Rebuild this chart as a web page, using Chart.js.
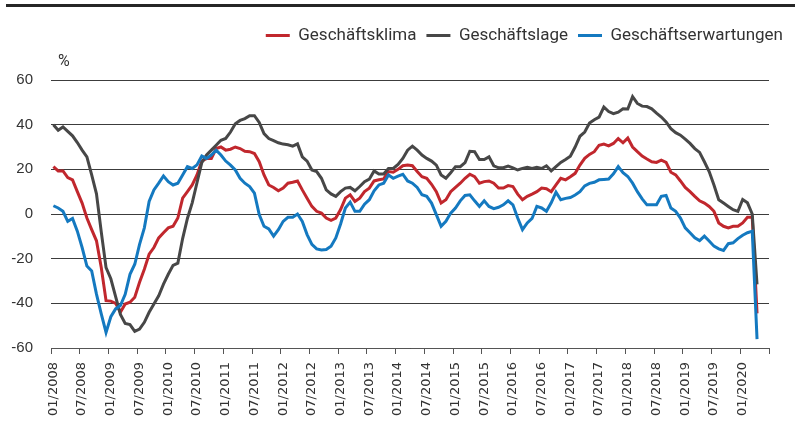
<!DOCTYPE html>
<html>
<head>
<meta charset="utf-8">
<script src="https://cdn.jsdelivr.net/npm/chart.js@4"></script>
<style>
  html, body { margin: 0; padding: 0; background: #fff; }
  #wrap { position: relative; width: 795px; height: 425px; }
</style>
</head>
<body>
<div id="wrap"><canvas id="ifo"></canvas></div>
<script>
'use strict'

// Monate 01/2008 .. 06/2020 (Achse reicht etwas über die Daten hinaus)
const monate = []
for (let j = 2008; j <= 2020; j++) {
  for (let m = 1; m <= 12; m++) {
    if (j === 2020 && m > 6) break
    monate.push(String(m).padStart(2, '0') + '/' + j)
  }
}

// Salden in %, 01/2008 bis 04/2020
const klima = [
  21.2, 19.3, 19.3, 16.3, 15.3, 10, 4.9, -1.8, -7, -12, -24, -38.8,
  -39, -40, -44, -40.3, -39.5, -37.3, -30.6, -24.7, -18, -15, -10.7, -8.4,
  -6.2, -5.5, -1.8, 7.1, 10, 13, 17.5, 23.7, 24.9, 24.9, 29.3, 30,
  28.6, 29, 30, 29.3, 28.1, 27.9, 27.1, 23.4, 17.5, 13, 11.9, 10.4,
  11.6, 13.8, 14.2, 14.8, 10.8, 7.1, 3.4, 1.2, 0.4, -1.8, -2.8, -1.8,
  2, 7.1, 8.6, 5.6, 7.1, 10, 11.6, 14.8, 15.3, 15.7, 19, 18.7,
  20, 21.6, 21.9, 21.6, 19, 16.7, 16, 13.3, 10, 4.9, 6.4, 10,
  11.9, 13.8, 16, 17.8, 16.7, 13.8, 14.5, 14.8, 13.8, 11.6, 11.6, 12.7,
  12.3, 8.9, 6.4, 7.9, 8.9, 10, 11.6, 11.3, 10, 13, 16, 15.3,
  16.7, 18.2, 21.9, 24.9, 26.7, 27.9, 30.8, 31.3, 30.5, 31.6, 33.8, 31.9,
  34, 30, 27.9, 25.9, 24.6, 23.4, 23.1, 24.1, 23.1, 18.7, 17.5, 14.8,
  11.9, 10, 7.9, 5.9, 4.9, 3.4, 1.2, -4, -5.5, -6.2, -5.5, -5.5,
  -4, -1.5, -1.5, -44.5
]

const lage = [
  40, 37.5, 39, 37, 35, 32, 28.6, 25.6, 17.5, 9, -8, -24,
  -29, -37, -45, -49, -49.5, -52.5, -51.5, -48.5, -44, -40.3, -36.6, -31.4,
  -27, -23, -22, -11, -2, 5, 14, 23, 26.4, 28.6, 30.8, 33,
  33.8, 36.7, 40.4, 41.9, 42.7, 44, 44, 41, 36, 33.8, 32.9, 31.9,
  31.3, 31, 30.4, 31.4, 25.6, 23.7, 19.7, 19, 16, 10.8, 9, 7.9,
  10, 11.6, 11.9, 10.4, 12.3, 14.5, 15.6, 19.3, 17.9, 17.9, 20.4, 20.4,
  22.2, 24.9, 28.6, 30.4, 28.6, 26.4, 24.9, 23.7, 21.9, 17.5, 16, 18.5,
  21.2, 21.2, 23, 28.1, 27.9, 24.4, 24.4, 25.6, 21.6, 20.7, 20.7, 21.5,
  20.7, 19.7, 20.4, 20.9, 20.4, 20.9, 20.4, 21.6, 19.3, 21.2, 23.1, 24.4,
  25.9, 30, 34.8, 36.7, 40.7, 42.2, 43.4, 47.9, 45.9, 44.9, 45.6, 47.1,
  47, 52.5, 49.5, 48.3, 48.1, 47.1, 45.2, 43.4, 41.2, 38.2, 36.4, 35.3,
  33.5, 31.6, 29.3, 27.6, 23.4, 19, 13, 6.4, 4.9, 3.4, 1.9, 1.2,
  6.5, 5, 0, -31.5
]

const erwartungen = [
  3.7, 2.7, 1.2, -3.3, -2, -7.7, -15, -23.3, -25.5, -35.9, -44.7, -53,
  -46, -42.5, -41, -36, -27, -22.5, -13.6, -6.2, 5.6, 10.8, 13.8, 17,
  14.5, 13, 13.8, 17.5, 21.2, 20.4, 22, 26, 24.9, 26.4, 28.6, 26.4,
  23.7, 21.9, 19.7, 16, 13.8, 12.3, 9.3, -0.3, -5.5, -6.7, -9.9, -7,
  -3.3, -1.5, -1.5, 0, -3.3, -9.2, -13.6, -15.6, -16.1, -15.9, -14.4, -10.7,
  -4.5, 2.7, 5.3, 1.2, 1.2, 4.4, 6.4, 10.4, 13, 13.8, 17.5, 16,
  17, 17.8, 14.8, 13.8, 11.9, 8.6, 7.9, 4.9, -0.3, -5.5, -3.3, 0.4,
  2.7, 5.9, 8.3, 8.6, 5.9, 3.4, 5.9, 3.4, 2.4, 3, 4.1, 5.9,
  4.1, -1.8, -7, -4, -2, 3.4, 2.7, 1.2, 5, 9.8, 6.4, 7,
  7.4, 8.5, 10, 12.6, 13.7, 14.2, 15.3, 15.5, 15.7, 18, 21.2, 18.5,
  16.8, 13.8, 10, 6.8, 4.1, 4.1, 4.1, 7.9, 8.3, 2.7, 1.2, -1.8,
  -6.2, -8.4, -10.7, -11.9, -9.9, -12.1, -14.4, -15.6, -16.3, -13.3, -12.9, -11,
  -9.5, -8.4, -7.7, -56
]

const rot = '#c1272d'
const grau = '#474747'
const blau = '#1479c0'

// schwarze Linie oben und das Prozentzeichen
const deko = {
  id: 'deko',
  beforeDraw(chart) {
    const ctx = chart.ctx
    ctx.save()
    ctx.fillStyle = '#262626'
    ctx.fillRect(6, 4, 789, 3)
    ctx.restore()
  },
  afterDraw(chart) {
    const ctx = chart.ctx
    ctx.save()
    ctx.fillStyle = '#333'
    ctx.font = '16px Roboto'
    ctx.textBaseline = 'middle'
    ctx.fillText('%', 58, 62)
    ctx.restore()
  }
}

const linie = (label, data, color, order) => ({
  label: label,
  data: data,
  borderColor: color,
  backgroundColor: color,
  borderWidth: 3,
  pointRadius: 0,
  tension: 0,
  fill: false,
  order: order
})

const config = {
  type: 'line',
  data: {
    labels: monate,
    datasets: [
      linie('Geschäftsklima', klima, rot, 3),
      linie('Geschäftslage', lage, grau, 2),
      linie('Geschäftserwartungen', erwartungen, blau, 1)
    ]
  },
  options: {
    responsive: true,
    maintainAspectRatio: false,
    animation: false,
    layout: { padding: { top: 17, right: 2, left: 0, bottom: 0 } },
    plugins: {
      tooltip: { enabled: false },
      legend: {
        position: 'top',
        align: 'end',
        labels: {
          usePointStyle: true,
          pointStyle: 'line',
          pointStyleWidth: 24,
          padding: 10,
          color: '#333',
          font: { family: 'Roboto', size: 17 },
          sort: (a, b) => a.datasetIndex - b.datasetIndex
        }
      }
    },
    scales: {
      x: {
        type: 'category',
        offset: true,
        grid: {
          offset: true,
          drawOnChartArea: false,
          tickLength: 6,
          tickColor: c => (c.type !== 'tick' || c.index % 6 === 0) ? '#555' : 'rgba(0,0,0,0)'
        },
        border: { display: true, color: '#555' },
        ticks: {
          autoSkip: false,
          minRotation: 90,
          maxRotation: 90,
          padding: 8,
          color: '#333',
          font: { family: 'DejaVu Sans', size: 13 },
          callback: (v, i) => i % 6 === 0 ? monate[i] : ''
        },
        afterFit: s => { s.height = 77 }
      },
      oben: {
        axis: 'x', type: 'linear', position: 'top', display: true,
        grid: { display: false }, border: { display: false }, ticks: { display: false },
        afterFit: s => { s.height = 26 }
      },
      y: {
        min: -60,
        max: 60,
        ticks: { stepSize: 20, padding: 18, color: '#333', font: { family: 'Liberation Sans', size: 15 } },
        grid: { color: '#3c3c3c', drawTicks: false },
        border: { display: false },
        afterFit: s => { s.width = 51 }
      },
      rechts: {
        axis: 'y', type: 'linear', position: 'right', display: true,
        grid: { display: false }, border: { display: false }, ticks: { display: false },
        afterFit: s => { s.width = 24 }
      }
    }
  },
  plugins: [deko]
}

const ifo = new Chart(document.querySelector('#ifo'), config)
</script>
</body>
</html>
